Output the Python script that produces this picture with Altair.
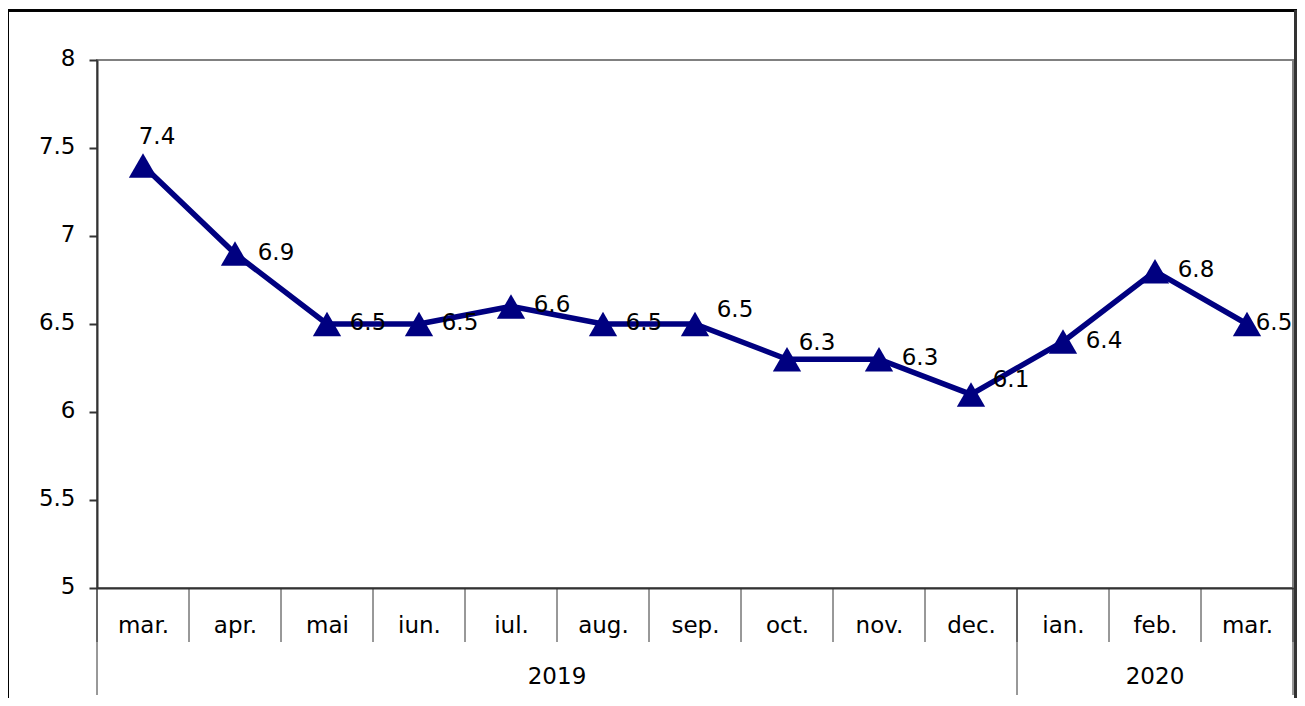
import json
import altair as alt
import pandas as pd

# ---- data ----
months = ["mar.", "apr.", "mai", "iun.", "iul.", "aug.", "sep.", "oct.", "nov.", "dec.", "ian.", "feb.", "mar."]
values = [7.4, 6.9, 6.5, 6.5, 6.6, 6.5, 6.5, 6.3, 6.3, 6.1, 6.4, 6.8, 6.5]
label_place = ["top", "right", "right", "right", "right", "right", "upper-right",
               "upper", "right", "upper-right", "right", "right", "edge"]
years = ["2019", "2020"]
year_first = [0, 10]
year_last = [9, 12]
y_ticks = [5, 5.5, 6, 6.5, 7, 7.5, 8]

FONT = "DejaVu Sans"
FS = 23
NAVY = "#000080"
W, H = 1196, 528

df = pd.DataFrame({
    "idx": list(range(len(months))),
    "month": months,
    "value": values,
    "place": label_place,
    "label": [f"{v:.1f}" for v in values],
})
seps = pd.DataFrame({"b": [i - 0.5 for i in range(len(months) + 1)]})
year_bounds = sorted(set([f - 0.5 for f in year_first] + [l + 0.5 for l in year_last]))
ysep = pd.DataFrame({"b": year_bounds})
ydf = pd.DataFrame({"year": years,
                    "center": [(f + l) / 2 for f, l in zip(year_first, year_last)]})

xscale = alt.Scale(domain=[-0.5, len(months) - 0.5], nice=False, zero=False)
yscale = alt.Scale(domain=[5, 8], nice=False, zero=False)

x_axis = alt.Axis(
    values=list(range(len(months))),
    labelExpr=f"{json.dumps(months)}[datum.value]",
    title=None, grid=False, ticks=False, tickSize=0,
    labelPadding=44, labelBaseline="alphabetic",
    labelFont=FONT, labelFontSize=FS, labelColor="#000000",
    labelOverlap=False, labelFlush=False,
    domainColor="#333333", domainWidth=2,
)
y_axis = alt.Axis(
    values=y_ticks, format="~g", title=None, grid=False,
    tickSize=8, tickColor="#333333", tickWidth=2,
    labelPadding=14, labelOffset=-2,
    labelFont=FONT, labelFontSize=FS, labelColor="#000000",
    domainColor="#333333", domainWidth=2,
)

base = alt.Chart(df)

line = base.mark_line(color=NAVY, strokeWidth=5.5).encode(
    x=alt.X("idx:Q", scale=xscale, axis=x_axis),
    y=alt.Y("value:Q", scale=yscale, axis=y_axis),
)
pts = base.mark_point(shape="triangle-up", filled=True, size=800, color=NAVY, opacity=1).encode(
    x=alt.X("idx:Q"), y=alt.Y("value:Q"),
)

offsets = {"right": (41, -1), "top": (14, -29), "upper": (30, -16),
           "upper-right": (40, -14), "edge": (27, -1)}
labels = []
for place, (dx, dy) in offsets.items():
    labels.append(
        base.transform_filter(alt.datum.place == place).mark_text(
            font=FONT, fontSize=FS, color="#000000", dx=dx, dy=dy,
            align="center", baseline="middle",
        ).encode(x="idx:Q", y="value:Q", text="label:N")
    )

sep_rules = alt.Chart(seps).mark_rule(color="#333333", strokeWidth=1).encode(
    x="b:Q", y=alt.value(H), y2=alt.value(H + 54),
)
ysep_rules = alt.Chart(ysep).mark_rule(color="#333333", strokeWidth=1).encode(
    x="b:Q", y=alt.value(H), y2=alt.value(H + 107),
)
year_text = alt.Chart(ydf).mark_text(
    font=FONT, fontSize=FS, color="#000000", align="center", baseline="alphabetic",
).encode(x="center:Q", y=alt.value(H + 96), text="year:N")

# outer frame of the figure
frame_left = alt.Chart(df).mark_rule(color="#000000", strokeWidth=2).encode(
    x=alt.value(-89), y=alt.value(-50), y2=alt.value(H + 120))
frame_top = alt.Chart(df).mark_rule(color="#000000", strokeWidth=1.5).encode(
    x=alt.value(-89), x2=alt.value(W + 4), y=alt.value(-49.5))
frame_right = alt.Chart(df).mark_rule(color="#333333", strokeWidth=2.5).encode(
    x=alt.value(W + 3), y=alt.value(-50), y2=alt.value(H + 120))

chart = alt.layer(
    sep_rules, ysep_rules, year_text, line, pts, *labels,
    frame_left, frame_top, frame_right,
).properties(
    width=W, height=H,
    autosize=alt.AutoSizeParams(type="none"),
    padding={"left": 89, "top": 52, "right": 4, "bottom": 110},
    background="white",
).configure_view(stroke="#808080", strokeWidth=2)

chart.save("out.html", embed_options={"renderer": "svg", "actions": False})
